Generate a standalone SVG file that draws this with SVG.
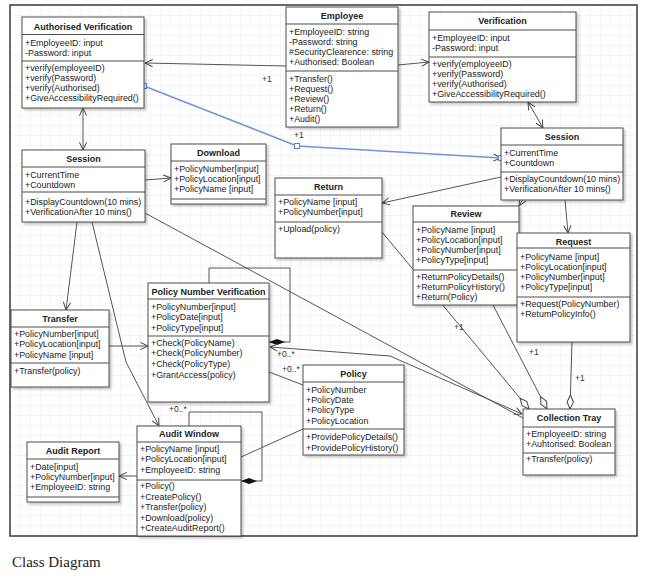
<svg xmlns="http://www.w3.org/2000/svg" width="645" height="582" viewBox="0 0 645 582">
  <defs>
    <pattern id="grid" x="10" y="5" width="10" height="10" patternUnits="userSpaceOnUse">
      <path d="M10,0 L0,0 L0,10" fill="none" stroke="#e6e6e6" stroke-width="0.8"/>
    </pattern>
    <filter id="shadow" x="-10%" y="-10%" width="130%" height="130%">
      <feDropShadow dx="2" dy="2" stdDeviation="1.2" flood-color="#000" flood-opacity="0.22"/>
    </filter>
    <marker id="open" viewBox="0 0 10 10" refX="9.5" refY="5" markerWidth="9" markerHeight="9" markerUnits="userSpaceOnUse" orient="auto-start-reverse">
      <path d="M1,1 L9.5,5 L1,9" fill="none" stroke="#444" stroke-width="1.1"/>
    </marker>
    <marker id="dfill" viewBox="0 0 16 8" refX="16" refY="4" markerWidth="16" markerHeight="8" markerUnits="userSpaceOnUse" orient="auto">
      <path d="M0,4 L8,1 L16,4 L8,7 Z" fill="#111"/>
    </marker>
    <marker id="dopen" viewBox="0 0 15 8" refX="14.5" refY="4" markerWidth="15" markerHeight="8" markerUnits="userSpaceOnUse" orient="auto">
      <path d="M0.5,4 L7.5,0.8 L14.5,4 L7.5,7.2 Z" fill="#fff" stroke="#444" stroke-width="1"/>
    </marker>
  </defs>
  <style>
    .frame { fill: url(#grid); stroke: #3a3a3a; stroke-width: 1.5; }
    .box { fill: #fff; stroke: #4d4d4d; stroke-width: 1; filter: url(#shadow); }
    .sep { stroke: #4d4d4d; stroke-width: 1; }
    text { font-family: "Liberation Sans", Arial, sans-serif; fill: #222; }
    .t { font-size: 8.9px; }
    .h { font-size: 9px; font-weight: bold; text-anchor: middle; }
    .lbl { font-size: 8.5px; fill: #333; }
    .ln { fill: none; stroke: #555; stroke-width: 1; }
    .arr { marker-end: url(#open); }
    .both { marker-start: url(#open); marker-end: url(#open); }
    .sel { fill: none; stroke: #6f95d8; stroke-width: 1.5; }
    .handle { fill: #fff; stroke: #5a86d6; stroke-width: 1; }
    .cap { font-family: "Liberation Serif", "Times New Roman", serif; font-size: 15px; fill: #222; }
  </style>

  <!-- drawing canvas -->
  <rect class="frame" x="10" y="5" width="627" height="531"/>

  <!-- associations -->
  <g id="connectors">
    <path class="ln arr" d="M286,66 L145,63"/>
    <path class="ln arr" d="M398,65 L429,62"/>
    <path class="ln both" d="M528,102 L543,128"/>
    <path class="ln both" d="M83,108 L83,150"/>
    <path class="ln arr" d="M145,180 L171,178"/>
    <path class="ln arr" d="M77,222 L66,310"/>
    <path class="ln arr" d="M92,222 L126,362 L159,426"/>
    <path class="ln" d="M145,213 L523,418"/>
    <path class="ln arr" d="M501,177 L382,203"/>
    <path class="ln arr" d="M523,199 L519,206"/>
    <path class="ln arr" d="M565,200 L568,233"/>
    <path class="ln arr" d="M109,346 L148,346"/>
    <path class="ln" d="M209,283 L209,268 L290,268 L290,342 L269,342" marker-end="url(#dfill)"/>
    <path class="ln both" d="M270,347 L390,356 L522,414"/>
    <path class="ln" d="M269,372 L303,385"/>
    <path class="ln" d="M241,457 L303,429"/>
    <path class="ln" d="M189,426 L189,412 L262,412 L262,481 L241,481" marker-end="url(#dfill)"/>
    <path class="ln arr" d="M137,476 L119,476"/>
    <path class="ln" d="M382,232 L529,409" marker-end="url(#dopen)"/>
    <path class="ln" d="M493,305 L547,409" marker-end="url(#dopen)"/>
    <path class="ln" d="M572,342 L570,409" marker-end="url(#dopen)"/>
    <!-- selected association with its edit handles -->
    <path class="sel" d="M144,86 L297,146 L501,158" marker-end="url(#open)"/>
    <rect class="handle" x="141.5" y="83.5" width="5" height="5"/>
    <rect class="handle" x="294.5" y="143.5" width="5" height="5"/>
    <rect class="handle" x="498.5" y="155.5" width="5" height="5"/>
    <text class="lbl" x="262" y="82">+1</text>
    <text class="lbl" x="294" y="138">+1</text>
    <text class="lbl" x="277" y="357">+0..*</text>
    <text class="lbl" x="282" y="372">+0..*</text>
    <text class="lbl" x="169" y="412">+0..*</text>
    <text class="lbl" x="454" y="330">+1</text>
    <text class="lbl" x="529" y="355">+1</text>
    <text class="lbl" x="575" y="381">+1</text>
  </g>

  <g id="authorised-verification">
    <rect class="box" x="22" y="17" width="122" height="91"/>
    <line class="sep" x1="22" y1="34.5" x2="144" y2="34.5"/>
    <line class="sep" x1="22" y1="61" x2="144" y2="61"/>
    <text class="h" x="83" y="29.5">Authorised Verification</text>
    <text class="t" x="25" y="46">+EmployeeID: input</text>
    <text class="t" x="25" y="56">-Password: input</text>
    <text class="t" x="25" y="71">+verify(employeeID)</text>
    <text class="t" x="25" y="81">+verify(Password)</text>
    <text class="t" x="25" y="91">+verify(Authorised)</text>
    <text class="t" x="25" y="101">+GiveAccessibilityRequired()</text>
  </g>

  <g id="employee">
    <rect class="box" x="286" y="7" width="112" height="120"/>
    <line class="sep" x1="286" y1="24" x2="398" y2="24"/>
    <line class="sep" x1="286" y1="71" x2="398" y2="71"/>
    <text class="h" x="342" y="18.5">Employee</text>
    <text class="t" x="289" y="35">+EmployeeID: string</text>
    <text class="t" x="289" y="45">-Password: string</text>
    <text class="t" x="289" y="55">#SecurityClearence: string</text>
    <text class="t" x="289" y="65">+Authorised: Boolean</text>
    <text class="t" x="289" y="82">+Transfer()</text>
    <text class="t" x="289" y="92">+Request()</text>
    <text class="t" x="289" y="102">+Review()</text>
    <text class="t" x="289" y="112">+Return()</text>
    <text class="t" x="289" y="122">+Audit()</text>
  </g>

  <g id="verification">
    <rect class="box" x="429" y="12" width="147" height="90"/>
    <line class="sep" x1="429" y1="30" x2="576" y2="30"/>
    <line class="sep" x1="429" y1="57" x2="576" y2="57"/>
    <text class="h" x="502.5" y="23.5">Verification</text>
    <text class="t" x="432" y="41">+EmployeeID: input</text>
    <text class="t" x="432" y="51">-Password: input</text>
    <text class="t" x="432" y="67">+verify(employeeID)</text>
    <text class="t" x="432" y="77">+verify(Password)</text>
    <text class="t" x="432" y="87">+verify(Authorised)</text>
    <text class="t" x="432" y="97">+GiveAccessibilityRequired()</text>
  </g>

  <g id="session-left">
    <rect class="box" x="22" y="150" width="123" height="72"/>
    <line class="sep" x1="22" y1="167" x2="145" y2="167"/>
    <line class="sep" x1="22" y1="192" x2="145" y2="192"/>
    <text class="h" x="83.5" y="162">Session</text>
    <text class="t" x="25" y="178">+CurrentTime</text>
    <text class="t" x="25" y="188">+Countdown</text>
    <text class="t" x="25" y="205">+DisplayCountdown(10 mins)</text>
    <text class="t" x="25" y="215">+VerificationAfter 10 mins()</text>
  </g>

  <g id="download">
    <rect class="box" x="171" y="144" width="95" height="60"/>
    <line class="sep" x1="171" y1="161" x2="266" y2="161"/>
    <line class="sep" x1="171" y1="199" x2="266" y2="199"/>
    <text class="h" x="218.5" y="156">Download</text>
    <text class="t" x="174" y="172">+PolicyNumber[input]</text>
    <text class="t" x="174" y="182">+PolicyLocation[input]</text>
    <text class="t" x="174" y="192">+PolicyName [input]</text>
  </g>

  <g id="return">
    <rect class="box" x="275" y="178" width="107" height="80"/>
    <line class="sep" x1="275" y1="195" x2="382" y2="195"/>
    <line class="sep" x1="275" y1="222" x2="382" y2="222"/>
    <text class="h" x="328.5" y="190">Return</text>
    <text class="t" x="278" y="205">+PolicyName [input]</text>
    <text class="t" x="278" y="215">+PolicyNumber[input]</text>
    <text class="t" x="278" y="232">+Upload(policy)</text>
  </g>

  <g id="session-right">
    <rect class="box" x="501" y="128" width="122" height="72"/>
    <line class="sep" x1="501" y1="145" x2="623" y2="145"/>
    <line class="sep" x1="501" y1="172" x2="623" y2="172"/>
    <text class="h" x="562" y="140">Session</text>
    <text class="t" x="504" y="156">+CurrentTime</text>
    <text class="t" x="504" y="166">+Countdown</text>
    <text class="t" x="504" y="182">+DisplayCountdown(10 mins)</text>
    <text class="t" x="504" y="192">+VerificationAfter 10 mins()</text>
  </g>

  <g id="review">
    <rect class="box" x="413" y="206" width="106" height="99"/>
    <line class="sep" x1="413" y1="222" x2="519" y2="222"/>
    <line class="sep" x1="413" y1="270" x2="519" y2="270"/>
    <text class="h" x="466" y="217">Review</text>
    <text class="t" x="416" y="233">+PolicyName [input]</text>
    <text class="t" x="416" y="243">+PolicyLocation[input]</text>
    <text class="t" x="416" y="253">+PolicyNumber[input]</text>
    <text class="t" x="416" y="263">+PolicyType[input]</text>
    <text class="t" x="416" y="280">+ReturnPolicyDetails()</text>
    <text class="t" x="416" y="290">+ReturnPolicyHistory()</text>
    <text class="t" x="416" y="300">+Return(Policy)</text>
  </g>

  <g id="request">
    <rect class="box" x="517" y="233" width="113" height="109"/>
    <line class="sep" x1="517" y1="248" x2="630" y2="248"/>
    <line class="sep" x1="517" y1="297" x2="630" y2="297"/>
    <text class="h" x="573.5" y="245">Request</text>
    <text class="t" x="520" y="260">+PolicyName [input]</text>
    <text class="t" x="520" y="270">+PolicyLocation[input]</text>
    <text class="t" x="520" y="280">+PolicyNumber[input]</text>
    <text class="t" x="520" y="290">+PolicyType[input]</text>
    <text class="t" x="520" y="307">+Request(PolicyNumber)</text>
    <text class="t" x="520" y="317">+RetumPolicyInfo()</text>
  </g>

  <g id="transfer">
    <rect class="box" x="11" y="310" width="98" height="77"/>
    <line class="sep" x1="11" y1="327" x2="109" y2="327"/>
    <line class="sep" x1="11" y1="363" x2="109" y2="363"/>
    <text class="h" x="60" y="322">Transfer</text>
    <text class="t" x="14" y="337">+PolicyNumber[input]</text>
    <text class="t" x="14" y="347">+PolicyLocation[input]</text>
    <text class="t" x="14" y="358">+PolicyName [input]</text>
    <text class="t" x="14" y="374">+Transfer(policy)</text>
  </g>

  <g id="policy-number-verification">
    <rect class="box" x="148" y="283" width="121" height="119"/>
    <line class="sep" x1="148" y1="299" x2="269" y2="299"/>
    <line class="sep" x1="148" y1="336" x2="269" y2="336"/>
    <text class="h" x="208.5" y="295">Policy Number Verification</text>
    <text class="t" x="151" y="310">+PolicyNumber[input]</text>
    <text class="t" x="151" y="320">+PolicyDate[input]</text>
    <text class="t" x="151" y="331">+PolicyType[input]</text>
    <text class="t" x="151" y="346">+Check(PolicyName)</text>
    <text class="t" x="151" y="356">+Check(PolicyNumber)</text>
    <text class="t" x="151" y="367">+Check(PolicyType)</text>
    <text class="t" x="151" y="378">+GrantAccess(policy)</text>
  </g>

  <g id="policy">
    <rect class="box" x="303" y="365" width="101" height="90"/>
    <line class="sep" x1="303" y1="382" x2="404" y2="382"/>
    <line class="sep" x1="303" y1="429" x2="404" y2="429"/>
    <text class="h" x="353.5" y="377">Policy</text>
    <text class="t" x="306" y="393">+PolicyNumber</text>
    <text class="t" x="306" y="403">+PolicyDate</text>
    <text class="t" x="306" y="413">+PolicyType</text>
    <text class="t" x="306" y="424">+PolicyLocation</text>
    <text class="t" x="306" y="440">+ProvidePolicyDetails()</text>
    <text class="t" x="306" y="451">+ProvidePolicyHistory()</text>
  </g>

  <g id="collection-tray">
    <rect class="box" x="523" y="409" width="92" height="66"/>
    <line class="sep" x1="523" y1="427" x2="615" y2="427"/>
    <line class="sep" x1="523" y1="453" x2="615" y2="453"/>
    <text class="h" x="569" y="421">Collection Tray</text>
    <text class="t" x="526" y="437">+EmployeeID: string</text>
    <text class="t" x="526" y="447">+Auhtorised: Boolean</text>
    <text class="t" x="526" y="462">+Transfer(policy)</text>
  </g>

  <g id="audit-window">
    <rect class="box" x="137" y="426" width="104" height="110"/>
    <line class="sep" x1="137" y1="442" x2="241" y2="442"/>
    <line class="sep" x1="137" y1="480" x2="241" y2="480"/>
    <text class="h" x="189" y="437">Audit Window</text>
    <text class="t" x="140" y="452">+PolicyName [input]</text>
    <text class="t" x="140" y="462">+PolicyLocation[input]</text>
    <text class="t" x="140" y="473">+EmployeeID: string</text>
    <text class="t" x="140" y="489">+Policy()</text>
    <text class="t" x="140" y="499.5">+CreatePolicy()</text>
    <text class="t" x="140" y="510">+Transfer(policy)</text>
    <text class="t" x="140" y="520.5">+Download(policy)</text>
    <text class="t" x="140" y="531">+CreateAuditReport()</text>
  </g>

  <g id="audit-report">
    <rect class="box" x="27" y="442" width="92" height="60"/>
    <line class="sep" x1="27" y1="459" x2="119" y2="459"/>
    <line class="sep" x1="27" y1="497" x2="119" y2="497"/>
    <text class="h" x="73" y="454">Audit Report</text>
    <text class="t" x="30" y="470">+Date[input]</text>
    <text class="t" x="30" y="480">+PolicyNumber[input]</text>
    <text class="t" x="30" y="490">+EmployeeID: string</text>
  </g>

  <text class="cap" x="12" y="567">Class Diagram</text>
</svg>
